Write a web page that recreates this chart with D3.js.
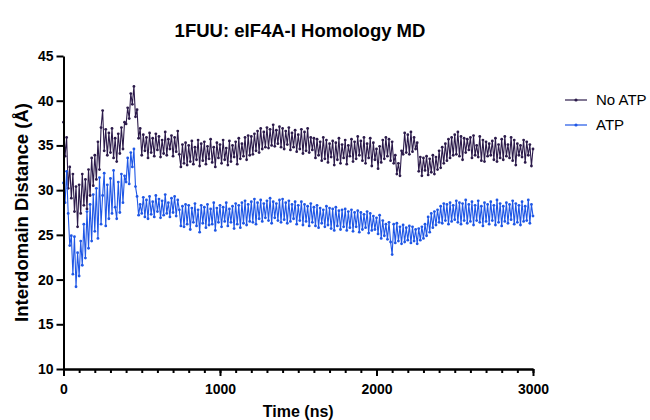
<!DOCTYPE html>
<html>
<head>
<meta charset="utf-8">
<script src="https://d3js.org/d3.v7.min.js"></script>
<style>
  body { margin: 0; background: #fff; }
  text { font-family: "Liberation Sans", Arial, sans-serif; }
</style>
</head>
<body>
<div id="chart"></div>
<script>
// time step of the sampled traces (ns)
const timeStep = 10;

// No ATP trace, every 10 ns (0..3000)
const noAtp = [
  37.6, 33.8, 35.9, 30.2, 32.6, 29.1, 31.8, 27.6, 30.4, 25.9,
  30.6, 27.4, 31.8, 28.3, 31.2, 27.9, 32.3, 29.4, 33.6, 30.5,
  33.9, 31.2, 35.4, 32.3, 37.0, 38.9, 34.4, 36.8, 33.9, 36.4,
  34.2, 36.9, 33.6, 35.8, 33.2, 36.3, 34.1, 37.0, 34.6, 37.6,
  37.4, 39.2, 38.0, 40.8, 39.6, 41.6, 38.2, 39.0, 35.8, 36.9,
  33.9, 36.2, 34.4, 35.9, 33.6, 36.4, 34.2, 35.8, 33.8, 36.3,
  34.5, 36.0, 33.7, 35.6, 34.1, 36.5, 33.9, 35.7, 34.6, 36.1,
  33.8, 35.9, 34.3, 36.6, 34.0, 32.6, 35.1, 33.0, 35.3, 32.8,
  35.0, 33.2, 35.5, 32.9, 34.8, 33.4, 35.6, 32.7, 35.2, 33.3,
  35.4, 32.9, 34.9, 33.5, 35.7, 33.1, 34.8, 32.6, 35.3, 33.6,
  35.1, 33.0, 35.6, 33.4, 34.7, 32.8, 35.5, 33.2, 35.0, 33.7,
  35.4, 32.9, 35.8, 33.5, 35.2, 33.8, 35.9, 33.4, 36.1, 33.9,
  36.0, 34.0, 36.3, 34.4, 36.6, 34.2, 36.9, 34.6, 36.5, 34.8,
  37.0, 34.7, 36.8, 35.0, 37.3, 34.9, 36.7, 35.2, 37.1, 34.8,
  36.9, 34.6, 36.6, 35.1, 37.0, 34.5, 36.4, 34.8, 36.7, 34.3,
  36.2, 34.6, 36.8, 34.1, 36.5, 34.4, 36.9, 34.2, 35.9, 34.5,
  35.8, 33.6, 35.7, 33.9, 35.4, 33.3, 35.9, 33.5, 35.6, 33.1,
  35.2, 33.7, 35.5, 32.8, 35.3, 33.4, 35.8, 33.0, 35.1, 33.6,
  35.6, 32.9, 35.0, 33.8, 35.7, 33.2, 35.4, 33.5, 36.0, 33.9,
  35.5, 33.3, 35.9, 33.0, 35.2, 33.6, 35.8, 32.7, 35.3, 33.4,
  34.6, 32.4, 34.9, 33.1, 35.6, 33.5, 35.9, 33.8, 35.7, 33.3,
  35.4, 33.0, 33.9, 31.8, 33.0, 31.6, 34.4, 34.0, 36.4, 34.2,
  36.2, 34.0, 36.5, 34.3, 35.9, 34.6, 35.3, 32.1, 33.7, 31.6,
  33.6, 32.2, 33.8, 31.7, 33.5, 32.0, 33.9, 31.8, 33.7, 32.3,
  34.4, 32.5, 34.8, 33.0, 35.2, 33.3, 35.7, 33.6, 35.9, 33.9,
  36.2, 34.0, 36.5, 33.8, 36.0, 33.4, 35.8, 34.2, 35.7, 34.5,
  35.9, 33.6, 36.1, 33.9, 35.0, 33.7, 36.0, 33.3, 35.6, 33.2,
  35.4, 33.8, 35.2, 33.9, 35.5, 33.4, 35.8, 33.2, 35.1, 33.6,
  35.7, 33.4, 36.0, 33.8, 35.1, 33.6, 35.9, 33.3, 35.6, 32.8,
  35.2, 33.9, 35.0, 33.7, 35.6, 33.1, 35.4, 33.9, 35.1, 32.7,
  34.6
];

// ATP trace, same sampling
const atp = [
  30.8, 28.6, 32.1, 27.4, 23.8, 24.9, 20.6, 24.8, 19.2, 23.0,
  20.4, 24.3, 21.6, 26.2, 22.4, 27.6, 23.5, 28.4, 24.3, 29.5,
  25.4, 30.2, 24.6, 31.4, 26.2, 29.4, 31.9, 26.0, 30.6, 26.8,
  31.3, 27.4, 32.2, 28.1, 26.8, 30.9, 27.5, 31.8, 28.6, 31.6,
  30.9, 33.6, 30.7, 34.2, 32.6, 34.6, 30.4, 29.3, 27.2, 28.4,
  27.4, 29.2, 27.0, 28.9, 26.8, 29.3, 27.3, 28.7, 27.0, 29.4,
  27.6, 29.0, 26.9, 28.8, 27.2, 29.5, 27.4, 28.6, 27.0, 29.1,
  27.5, 29.3, 27.1, 28.9, 27.8, 26.0, 28.2, 25.9, 28.4, 26.2,
  28.3, 25.6, 28.0, 26.4, 28.5, 26.0, 27.8, 25.3, 28.3, 26.3,
  28.1, 25.8, 28.4, 26.1, 27.9, 26.2, 28.6, 25.5, 28.0, 26.4,
  28.3, 25.9, 28.1, 26.5, 28.6, 26.0, 27.9, 26.4, 28.2, 25.7,
  28.5, 26.2, 28.3, 25.8, 28.6, 26.3, 28.8, 26.1, 28.4, 26.5,
  28.7, 26.4, 29.0, 26.2, 28.6, 26.8, 28.9, 26.5, 28.5, 26.9,
  28.8, 26.6, 29.1, 26.3, 28.7, 26.9, 28.5, 26.6, 28.9, 26.4,
  29.0, 26.7, 28.6, 26.3, 28.8, 26.5, 28.4, 26.8, 28.7, 26.2,
  28.3, 26.6, 28.7, 26.1, 28.4, 26.5, 28.2, 26.0, 28.5, 26.4,
  28.1, 26.0, 28.3, 25.8, 28.0, 26.3, 27.8, 25.9, 28.2, 26.1,
  28.0, 25.7, 27.9, 25.5, 28.1, 26.0, 27.7, 25.6, 27.8, 25.9,
  27.9, 25.5, 27.6, 25.8, 27.8, 25.4, 27.5, 25.9, 27.7, 25.3,
  27.5, 25.6, 27.3, 25.8, 27.6, 25.2, 27.4, 25.5, 27.1, 25.6,
  26.9, 25.1, 27.2, 24.6, 26.6, 24.9, 26.2, 24.5, 26.4, 24.2,
  22.8, 26.2, 24.1, 26.3, 24.3, 25.9, 24.0, 26.1, 24.2, 25.8,
  24.4, 26.0, 24.1, 25.9, 24.3, 25.6, 24.0, 25.7, 24.4, 25.9,
  24.6, 26.2, 24.9, 27.0, 25.3, 27.4, 25.8, 27.6, 26.1, 27.8,
  26.4, 28.2, 26.3, 28.5, 26.6, 28.4, 26.2, 28.6, 26.5, 28.3,
  26.7, 28.8, 26.4, 28.6, 26.2, 28.5, 26.6, 28.9, 26.3, 28.4,
  26.5, 28.7, 26.1, 28.3, 26.6, 28.8, 26.4, 28.2, 26.0, 28.6,
  26.5, 28.4, 26.2, 28.7, 26.6, 28.3, 26.1, 28.9, 26.4, 28.5,
  26.0, 28.2, 26.5, 28.6, 26.3, 28.4, 26.7, 28.8, 26.2, 28.5,
  26.4, 28.3, 26.1, 28.7, 26.5, 28.2, 26.6, 28.9, 26.3, 28.4,
  27.1
];

const seriesNames = ['No ATP', 'ATP'];
const seriesColors = ['#2c1b4b', '#1f57e6'];
const yTicks = [10, 15, 20, 25, 30, 35, 40, 45];
const xMajorTicks = [0, 1000, 2000, 3000];
const xMinorTicks = d3.range(0, 3001, 100);

const width = 650, height = 420;
const margin = { top: 56, right: 117, bottom: 51, left: 63.5 };

const svg = d3.select('#chart').append('svg')
  .attr('width', width)
  .attr('height', height);

const x = d3.scaleLinear().domain([0, 3000]).range([margin.left, width - margin.right]);
const y = d3.scaleLinear().domain([10, 45]).range([height - margin.bottom, margin.top]);

// title
svg.append('text')
  .attr('x', 300)
  .attr('y', 37)
  .attr('text-anchor', 'middle')
  .style('font-size', '18.5px')
  .style('font-weight', 'bold')
  .text('1FUU: eIF4A-I Homology MD');

// series
const series = [noAtp, atp];
series.forEach((vals, i) => {
  const pts = vals.map((v, j) => [j * timeStep, v]);
  const g = svg.append('g');
  g.append('path')
    .datum(pts)
    .attr('fill', 'none')
    .attr('stroke', seriesColors[i])
    .attr('stroke-width', 1.1)
    .attr('d', d3.line().x(d => x(d[0])).y(d => y(d[1])));
  g.selectAll('circle')
    .data(pts)
    .enter()
    .append('circle')
    .attr('cx', d => x(d[0]))
    .attr('cy', d => y(d[1]))
    .attr('r', 1.4)
    .attr('fill', seriesColors[i]);
});

// axes
function styleAxis(g) {
  g.selectAll('path.domain').attr('stroke', '#000').attr('stroke-width', 2);
  g.selectAll('.tick line').attr('stroke', '#000').attr('stroke-width', 2);
  g.selectAll('.tick text')
    .attr('fill', '#000')
    .style('font-size', '14px')
    .style('font-weight', 'bold')
    .style('font-family', '"Liberation Sans", Arial, sans-serif');
}

const yAxis = svg.append('g')
  .attr('transform', `translate(${margin.left},0)`)
  .call(d3.axisLeft(y).tickValues(yTicks).tickSize(7).tickSizeOuter(0).tickPadding(3));
styleAxis(yAxis);

const xMinor = svg.append('g')
  .attr('transform', `translate(0,${height - margin.bottom})`)
  .call(d3.axisBottom(x).tickValues(xMinorTicks).tickFormat('').tickSize(4).tickSizeOuter(0));
styleAxis(xMinor);

const xAxis = svg.append('g')
  .attr('transform', `translate(0,${height - margin.bottom})`)
  .call(d3.axisBottom(x).tickValues(xMajorTicks).tickFormat(d3.format('d')).tickSize(7).tickSizeOuter(0).tickPadding(8));
styleAxis(xAxis);

// axis titles
svg.append('text')
  .attr('x', (margin.left + width - margin.right) / 2)
  .attr('y', 417)
  .attr('text-anchor', 'middle')
  .style('font-size', '16px')
  .style('font-weight', 'bold')
  .text('Time (ns)');

svg.append('text')
  .attr('transform', `translate(28,${(margin.top + height - margin.bottom) / 2}) rotate(-90)`)
  .attr('text-anchor', 'middle')
  .style('font-size', '18.5px')
  .style('font-weight', 'bold')
  .text('Interdomain Distance (Å)');

// legend
const legend = svg.append('g').attr('transform', 'translate(565,100)');
seriesNames.forEach((name, i) => {
  const row = legend.append('g').attr('transform', `translate(0,${i * 25})`);
  row.append('line')
    .attr('x1', 0).attr('x2', 22)
    .attr('stroke', seriesColors[i])
    .attr('stroke-width', 1.2);
  row.append('circle')
    .attr('cx', 11).attr('r', 1.6)
    .attr('fill', seriesColors[i]);
  row.append('text')
    .attr('x', 31)
    .attr('y', 5)
    .style('font-size', '15px')
    .text(name);
});
</script>
</body>
</html>
